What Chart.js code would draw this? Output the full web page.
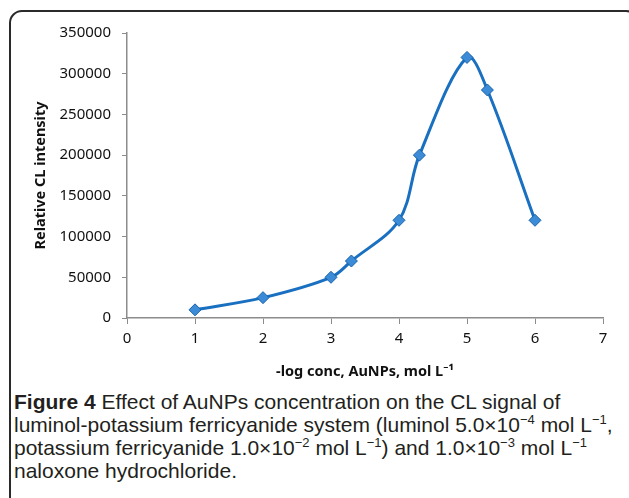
<!DOCTYPE html>
<html>
<head>
<meta charset="utf-8">
<script src="https://cdn.jsdelivr.net/npm/chart.js@4.4.1/dist/chart.umd.min.js"></script>
<style>
  body { margin: 0; background: #fff; width: 629px; height: 498px; overflow: hidden; position: relative; }
  .frame { position: absolute; left: 9px; top: 10px; width: 630px; height: 520px; border: 2px solid #2a2a2a; border-radius: 13px; box-sizing: border-box; }
  .plot { position: absolute; left: 0; top: 0; width: 629px; height: 385px; }
  .caption { position: absolute; left: 14px; top: 390px; width: 620px; font-family: "Liberation Sans", sans-serif; font-size: 21px; line-height: 23px; color: #231f20; white-space: nowrap; }
  .caption sup { font-size: 13px; line-height: 0; }
</style>
</head>
<body>
<div class="frame"></div>
<div class="plot"><canvas id="chart"></canvas></div>
<div class="caption"><b>Figure 4</b> Effect of AuNPs concentration on the CL signal of<br>luminol-potassium ferricyanide system (luminol 5.0×10<sup>−4</sup> mol L<sup>−1</sup>,<br>potassium ferricyanide 1.0×10<sup>−2</sup> mol L<sup>−1</sup>) and 1.0×10<sup>−3</sup> mol L<sup>−1</sup><br>naloxone hydrochloride.</div>
<script>
// -log conc of AuNPs and the measured CL signal
const logConc = [1, 2, 3, 3.3, 4, 4.3, 5, 5.3, 6];
const intensity = [10000, 25000, 50000, 70000, 120000, 200000, 320000, 280000, 120000];
const xTicks = [0, 1, 2, 3, 4, 5, 6, 7];
const yTicks = [0, 50000, 100000, 150000, 200000, 250000, 300000, 350000];

const axisGrey = '#8c8c8c';
const tickFont = { family: 'Noto Sans', size: 15 };
const titleFont = { family: 'Noto Sans', size: 14.5, weight: 'bold' };

const ctx = document.getElementById('chart').getContext('2d');
new Chart(ctx, {
    type: 'scatter',
    data: {
        datasets: [{
            data: logConc.map((x, i) => ({ x: x, y: intensity[i] })),
            showLine: true,
            tension: 0.35,
            borderColor: '#1a70c0',
            borderWidth: 3,
            pointStyle: 'rectRot',
            pointRadius: 6,
            pointBackgroundColor: '#3b8bd6',
            pointBorderColor: '#1862ab',
            pointBorderWidth: 1,
        }],
    },
    options: {
        responsive: true,
        maintainAspectRatio: false,
        animation: false,
        layout: { padding: { top: 33, right: 26, left: 30, bottom: 0 } },
        plugins: { legend: { display: false }, tooltip: { enabled: false } },
        scales: {
            x: {
                type: 'linear',
                min: 0, max: 7,
                afterBuildTicks: (axis) => { axis.ticks = xTicks.map(v => ({ value: v })); },
                ticks: { font: tickFont, color: '#111', padding: 6, callback: (v) => String(v) },
                grid: { drawOnChartArea: false, color: axisGrey, tickLength: 6 },
                border: { color: axisGrey, width: 1.5 },
                title: { display: true, text: '-log conc, AuNPs, mol L\u207B\u00B9', font: titleFont, color: '#111', padding: { top: 3 } },
                afterFit: (axis) => { axis.height = 67; },
            },
            y: {
                min: 0, max: 350000,
                afterBuildTicks: (axis) => { axis.ticks = yTicks.map(v => ({ value: v })); },
                ticks: { font: tickFont, color: '#111', padding: 11, callback: (v) => String(v) },
                grid: { drawOnChartArea: false, color: axisGrey, tickLength: 5 },
                border: { color: axisGrey, width: 1.5 },
                title: { display: true, text: 'Relative CL intensity', font: titleFont, color: '#111', padding: { top: 2, bottom: 0 } },
                afterFit: (axis) => { axis.width = 97; },
            },
        },
    },
});
</script>
</body>
</html>
